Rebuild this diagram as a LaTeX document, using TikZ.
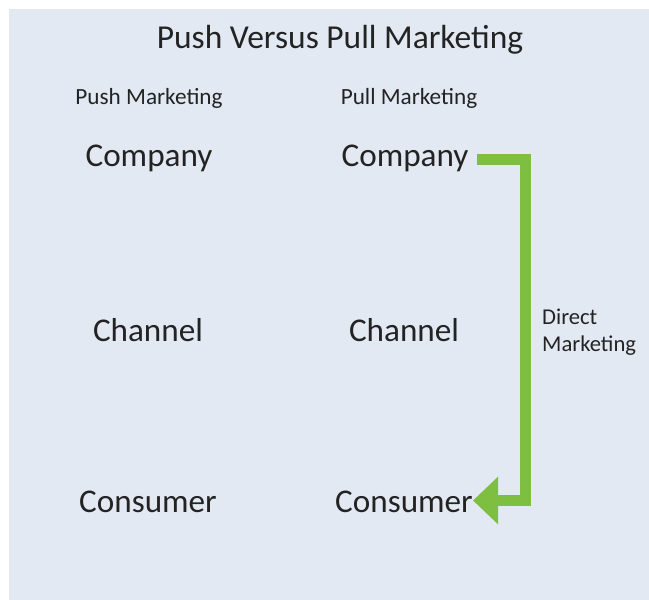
\documentclass[tikz,border=0pt]{standalone}
\usepackage{fontspec}
\setmainfont{Carlito}
\usepackage{tikz}
\usetikzlibrary{arrows.meta}

\definecolor{panelbg}{RGB}{226,233,243}
\definecolor{arrowgreen}{RGB}{126,191,65}
\definecolor{textgray}{RGB}{35,35,35}

\begin{document}
\begin{tikzpicture}[x=1bp, y=-1bp,
  title/.style={text=textgray, inner sep=0pt, font=\fontsize{33.6}{38}\selectfont},
  header/.style={text=textgray, inner sep=0pt, font=\fontsize{23.3}{27}\selectfont},
  level/.style={text=textgray, inner sep=0pt, font=\fontsize{33.3}{38}\selectfont},
  direct/.style={text=textgray, inner sep=0pt, align=left, font=\fontsize{22.7}{27}\selectfont},
  directarrow/.style={draw=arrowgreen, line width=11bp, line join=miter,
    -{Triangle[width=46bp, length=25bp]}}]

%% canvas
\useasboundingbox (0,0) rectangle (649,600);
\fill[white] (0,0) rectangle (649,600);
\fill[panelbg] (9,9) rectangle (649,600);

%% title and column heads
\node[title] (ttl) at (340,40) {Push Versus Pull Marketing};
\node[header] (pushhd) at (149,98) {Push Marketing};
\node[header] (pullhd) at (409,98) {Pull Marketing};

%% push column
\node[level] (comp1) at (149,158) {Company};
\node[level] (chan1) at (148,330) {Channel};
\node[level] (cons1) at (148,502) {Consumer};

%% pull column
\node[level] (comp2) at (405,158) {Company};
\node[level] (chan2) at (404,330) {Channel};
\node[level] (cons2) at (404,502) {Consumer};

%% direct marketing
\node[direct, anchor=west] (dmlbl) at (542,332) {Direct\\Marketing};
\coordinate (dmstart) at (477,160);
\coordinate (dmend) at (473,500.5);
\draw[directarrow] (dmstart) -- (525.5,160) |- (dmend);     %% company -> consumer
\end{tikzpicture}
\end{document}
